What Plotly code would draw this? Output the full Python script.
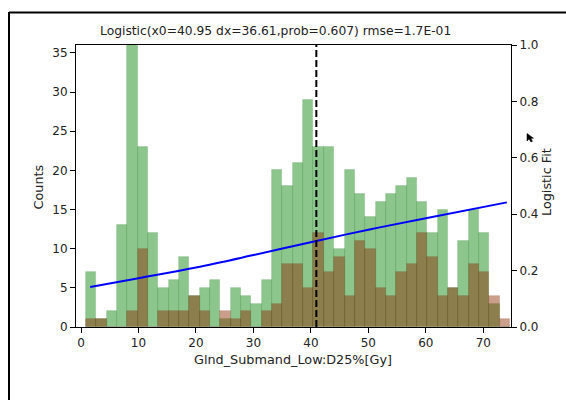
import plotly.graph_objects as go

# Histogram bins (Gy): 41 equal-width bins
bin_start = 0.85
bin_width = 1.80
green_counts = [7, 1, 2, 13, 36, 23, 12, 5, 6, 9, 4, 5, 6, 1, 5, 4, 3, 6, 20, 18, 21,
                29, 23, 23, 10, 20, 17, 14, 16, 17, 18, 19, 16, 12, 15, 5, 11, 15, 12, 3, 0]
brown_counts = [1, 1, 0, 0, 2, 10, 0, 2, 2, 2, 4, 2, 0, 2, 1, 2, 0, 2, 3, 8, 8,
                5, 12, 7, 9, 4, 11, 10, 5, 4, 7, 8, 12, 9, 4, 5, 4, 8, 7, 4, 1]
bin_centers = [bin_start + bin_width * (i + 0.5) for i in range(len(green_counts))]

# Logistic fit curve samples
fit_x = [1.6, 10, 20, 30, 40.95, 50, 60, 74.1]
fit_y = [0.142, 0.173, 0.211, 0.255, 0.305, 0.345, 0.386, 0.442]
x0 = 40.95

title_text = "Logistic(x0=40.95 dx=36.61,prob=0.607) rmse=1.7E-01"
x_label = "Glnd_Submand_Low:D25%[Gy]"
x_ticks = [0, 10, 20, 30, 40, 50, 60, 70]
y_ticks = [0, 5, 10, 15, 20, 25, 30, 35]
y2_ticks = [0.0, 0.2, 0.4, 0.6, 0.8, 1.0]

FONT = "DejaVu Sans"
TXT = "#222222"

fig = go.Figure()
fig.add_trace(go.Bar(x=bin_centers, y=green_counts, width=bin_width,
                     marker=dict(color="rgba(0,128,0,0.45)",
                                 line=dict(color="rgba(0,100,0,0.18)", width=0.8)),
                     showlegend=False))
fig.add_trace(go.Bar(x=bin_centers, y=brown_counts, width=bin_width,
                     marker=dict(color="rgba(139,40,0,0.45)",
                                 line=dict(color="rgba(110,30,0,0.15)", width=0.8)),
                     showlegend=False))
fig.add_trace(go.Scatter(x=fit_x, y=fit_y, mode="lines", yaxis="y2",
                         line=dict(color="#0000ff", width=2, shape="spline"),
                         showlegend=False))
fig.add_trace(go.Scatter(x=[x0, x0], y=[0, 1], mode="lines", yaxis="y2",
                         line=dict(color="black", width=2, dash="7px,3px"),
                         showlegend=False))

L, R, T, B = 76, 55, 45, 73
W, H = 566, 400
pw, ph = W - L - R, H - T - B


def px(x):
    return (x - L) / pw


def py(y):
    return (H - B - y) / ph


axis_common = dict(showline=True, linecolor="black", linewidth=1, ticks="outside",
                   ticklen=5, tickwidth=1, tickcolor="black", showgrid=False,
                   zeroline=False, tickfont=dict(family=FONT, size=12, color=TXT))

cursor = [(527, 133.5), (527, 141), (529, 139), (531, 142), (532.5, 141.3),
          (530.8, 138.4), (533.5, 138.2)]
cursor_path = "M " + " L ".join("{:.4f},{:.4f}".format(px(a), py(b)) for a, b in cursor) + " Z"

fig.update_layout(
    width=W, height=H,
    margin=dict(l=L, r=R, t=T, b=B),
    paper_bgcolor="white", plot_bgcolor="white",
    barmode="overlay", bargap=0,
    xaxis=dict(range=[-0.87, 74.82], tickvals=x_ticks, mirror=True, **axis_common),
    yaxis=dict(range=[0, 36], tickvals=y_ticks, **axis_common),
    yaxis2=dict(range=[0, 1], tickvals=y2_ticks, tickformat=".1f", overlaying="y",
                side="right", **axis_common),
    annotations=[
        dict(text=title_text, x=px(275.5), y=py(31), xref="paper", yref="paper",
             showarrow=False, xanchor="center", yanchor="middle",
             font=dict(family=FONT, size=12.3, color=TXT)),
        dict(text=x_label, x=px(292.5), y=py(359), xref="paper", yref="paper",
             showarrow=False, xanchor="center", yanchor="middle",
             font=dict(family=FONT, size=12.8, color=TXT)),
        dict(text="Counts", x=px(37.5), y=py(187), xref="paper", yref="paper",
             showarrow=False, textangle=-90, xanchor="center", yanchor="middle",
             font=dict(family=FONT, size=12.8, color=TXT)),
        dict(text="Logistic Fit", x=px(546.5), y=py(182.5), xref="paper", yref="paper",
             showarrow=False, textangle=-90, xanchor="center", yanchor="middle",
             font=dict(family=FONT, size=12.8, color=TXT)),
    ],
    shapes=[
        # outer window frame
        dict(type="line", xref="paper", yref="paper", x0=px(9), x1=px(9),
             y0=py(12), y1=py(402), line=dict(color="black", width=2)),
        dict(type="line", xref="paper", yref="paper", x0=px(9), x1=px(568),
             y0=py(12.5), y1=py(12.5), line=dict(color="black", width=2)),
        # mouse pointer
        dict(type="path", xref="paper", yref="paper", path=cursor_path,
             fillcolor="black", line=dict(color="black", width=0.5)),
    ],
)

fig.write_html("out.html")
